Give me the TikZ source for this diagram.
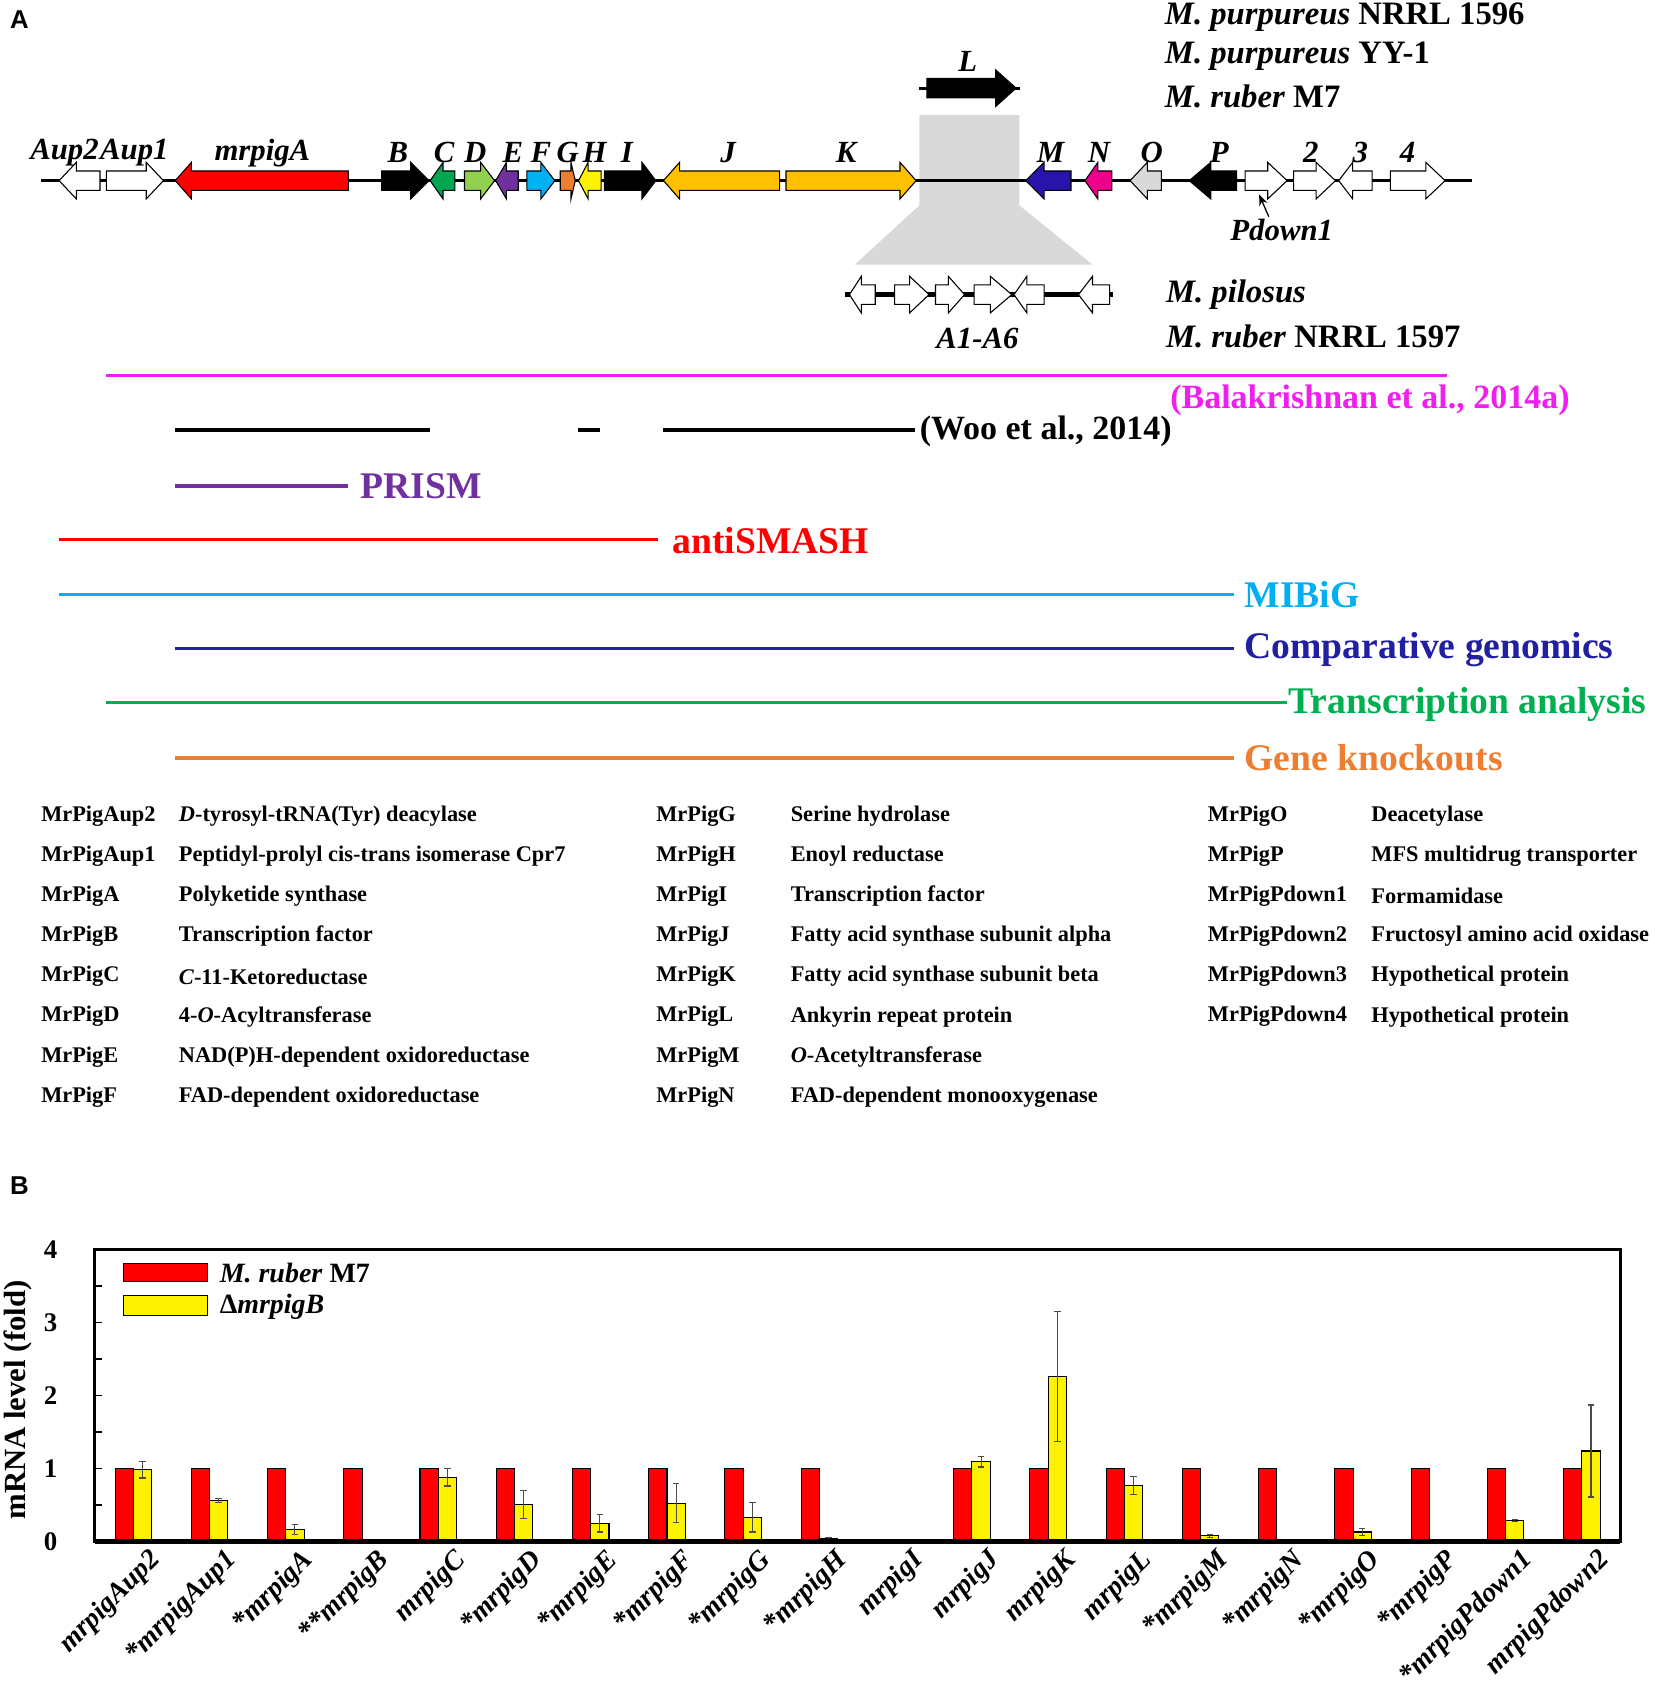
\documentclass[tikz,border=0pt]{standalone}
\usepackage{fontspec}
\setmainfont{Liberation Serif}
\newfontfamily\panelsans{Liberation Sans}
\usepackage{tikz}
\usetikzlibrary{arrows.meta}

\definecolor{pigC}{RGB}{0,166,80}
\definecolor{pigD}{RGB}{146,208,80}
\definecolor{pigE}{RGB}{112,48,160}
\definecolor{pigF}{RGB}{0,176,240}
\definecolor{pigG}{RGB}{237,125,49}
\definecolor{pigJK}{RGB}{255,192,0}
\definecolor{pigM}{RGB}{40,20,170}
\definecolor{pigO}{RGB}{217,217,217}
\definecolor{regiongray}{RGB}{217,217,217}
\definecolor{balak}{RGB}{240,30,240}
\definecolor{prism}{RGB}{112,48,160}
\definecolor{mibig}{RGB}{0,176,240}
\definecolor{compgen}{RGB}{32,32,160}
\definecolor{transcr}{RGB}{0,176,80}
\definecolor{knockout}{RGB}{237,125,49}

% tail, head base, tip, y, fill
\newcommand{\genearrow}[5]{%
    \filldraw[fill=#5,draw=black,line width=0.5pt]
        (#1,#4-9) -- (#2,#4-9) -- (#2,#4-17) -- (#3,#4) -- (#2,#4+17) -- (#2,#4+9) -- (#1,#4+9) -- cycle;}

\tikzset{
    genelbl/.style={font=\fontsize{14.3}{16}\selectfont\bfseries\itshape, inner sep=1pt},
    strainlbl/.style={font=\fontsize{15.2}{18}\selectfont\bfseries, anchor=west, inner sep=0pt},
    methodline/.style={line width=1.5pt},
    methodlbl/.style={font=\fontsize{17.5}{20}\selectfont\bfseries, anchor=west, inner sep=0pt},
    reflbl/.style={font=\fontsize{15.8}{18}\selectfont\bfseries, anchor=west, inner sep=0pt},
    tabtext/.style={font=\fontsize{10.4}{12}\selectfont\bfseries, anchor=west, inner sep=0pt},
    panellbl/.style={font=\panelsans\fontsize{12}{14}\selectfont\bfseries},
    ticklbl/.style={font=\fontsize{12.5}{14}\selectfont\bfseries},
    axislbl/.style={font=\fontsize{14.3}{16}\selectfont\bfseries},
    legendlbl/.style={font=\fontsize{13}{15}\selectfont\bfseries, anchor=west, inner sep=0pt},
    genetick/.style={font=\fontsize{13}{15}\selectfont\bfseries\itshape, anchor=east, rotate=45, inner sep=0pt},
    redbar/.style={fill=red,draw=black,line width=0.5pt},
    yellowbar/.style={fill=yellow,draw=black,line width=0.5pt},
    errbar/.style={draw=black!70,line width=0.5pt},
}

\begin{document}
\begin{tikzpicture}[x=0.5pt,y=-0.5pt]
    \useasboundingbox (0,0) rectangle (1539,1568);

    \node[panellbl] (panelA) at (18,18) {A};
    \node[panellbl] (panelB) at (18,1103) {B};

    % strains
    \node[strainlbl] (s1) at (1083,16) {\textit{M. purpureus} NRRL 1596};
    \node[strainlbl] (s2) at (1083,52) {\textit{M. purpureus} YY-1};
    \node[strainlbl] (s3) at (1083,90) {\textit{M. ruber} M7};
    \node[strainlbl] (s4) at (1084,274) {\textit{M. pilosus}};
    \node[strainlbl] (s5) at (1084,313) {\textit{M. ruber} NRRL 1597};

    % inserted region
    \fill[regiongray] (855,107) -- (948,107) -- (948,191) -- (1016,246) -- (795,246) -- (855,191) -- cycle;

    % L on top
    \draw[line width=1.5pt] (855,82) -- (949,82);
    \genearrow{862}{926}{945}{82}{black}
    \node[genelbl] (labL) at (900,57) {L};

    % main cluster
    \draw[line width=1.5pt] (38,168) -- (1369,168);
    \genearrow{93}{71}{55}{168}{white}
    \genearrow{99}{136}{152}{168}{white}
    \genearrow{324}{178}{163}{168}{red}
    \genearrow{355}{382}{399}{168}{black}
    \genearrow{423}{412}{400}{168}{pigC}
    \genearrow{432}{447}{460}{168}{pigD}
    \genearrow{482}{471}{461}{168}{pigE}
    \genearrow{490}{503}{516}{168}{pigF}
    \genearrow{521}{531}{535}{168}{pigG}
    \genearrow{559}{547}{538}{168}{yellow}
    \genearrow{562}{597}{610}{168}{black}
    \genearrow{725}{632}{617}{168}{pigJK}
    \genearrow{731}{837}{852}{168}{pigJK}
    \genearrow{996}{971}{954}{168}{pigM}
    \genearrow{1034}{1021}{1009}{168}{magenta}
    \genearrow{1080}{1067}{1051}{168}{pigO}
    \genearrow{1150}{1126}{1106}{168}{black}
    \genearrow{1158}{1179}{1197}{168}{white}
    \genearrow{1203}{1224}{1242}{168}{white}
    \genearrow{1276}{1258}{1245}{168}{white}
    \genearrow{1293}{1326}{1344}{168}{white}

    \node[genelbl] (labAup2) at (60,142) {Aup2};
    \node[genelbl] (labAup1) at (125,142) {Aup1};
    \node[genelbl] (labA) at (244,142) {mrpigA};
    \node[genelbl] (labB) at (370,142) {B};
    \node[genelbl] (labC) at (413,142) {C};
    \node[genelbl] (labD) at (442,142) {D};
    \node[genelbl] (labE) at (477,142) {E};
    \node[genelbl] (labF) at (503,142) {F};
    \node[genelbl] (labG) at (528,142) {G};
    \node[genelbl] (labH) at (553,142) {H};
    \node[genelbl] (labI) at (583,142) {I};
    \node[genelbl] (labJ) at (677,142) {J};
    \node[genelbl] (labK) at (787,142) {K};
    \node[genelbl] (labM) at (977,142) {M};
    \node[genelbl] (labN) at (1022,142) {N};
    \node[genelbl] (labO) at (1071,142) {O};
    \node[genelbl] (labP) at (1134,142) {P};
    \node[genelbl] (lab2) at (1219,142) {2};
    \node[genelbl] (lab3) at (1265,142) {3};
    \node[genelbl] (lab4) at (1309,142) {4};

    \node[genelbl] (labPd1) at (1192,214) {Pdown1};
    \coordinate (pd1tip) at (1171,181);
    \draw[-{Stealth[length=5pt,width=4pt]},line width=0.6pt] ([xshift=-6pt]labPd1.north) -- (pd1tip);

    % M. pilosus row
    \draw[line width=2pt] (786,274) -- (1035,274);
    \genearrow{814}{801}{790}{274}{white}
    \genearrow{832}{846}{864}{274}{white}
    \genearrow{870}{882}{897}{274}{white}
    \genearrow{906}{921}{941}{274}{white}
    \genearrow{971}{955}{943}{274}{white}
    \genearrow{1032}{1016}{1003}{274}{white}
    \node[genelbl] (labA16) at (909,315) {A1-A6};

    % prediction methods
    \draw[methodline,balak] (99,349) -- (1346,349);
    \node[reflbl,text=balak] (balak) at (1088,372) {(Balakrishnan et al., 2014a)};
    \draw[methodline] (163,400) -- (400,400);
    \draw[methodline] (538,400) -- (558,400);
    \draw[methodline] (617,400) -- (851,400);
    \node[reflbl] (woo) at (855,401) {(Woo et al., 2014)};
    \draw[methodline,prism] (163,452) -- (324,452);
    \node[methodlbl,text=prism] (prismlbl) at (335,452) {PRISM};
    \draw[methodline,red] (55,502) -- (612,502);
    \node[methodlbl,text=red] (antismash) at (625,503) {antiSMASH};
    \draw[methodline,mibig] (55,553) -- (1148,553);
    \node[methodlbl,text=mibig] (mibiglbl) at (1157,553) {MIBiG};
    \draw[methodline,compgen] (163,603) -- (1148,603);
    \node[methodlbl,text=compgen] (complbl) at (1157,604) {Comparative genomics};
    \draw[methodline,transcr] (99,653) -- (1197,653);
    \node[methodlbl,text=transcr] (translbl) at (1198,655) {Transcription analysis};
    \draw[methodline,knockout] (163,705) -- (1148,705);
    \node[methodlbl,text=knockout] (kolbl) at (1157,705) {Gene knockouts};

    % gene functions
    \foreach \nm/\ds [count=\k] in {
        MrPigAup2/{\textit{D}-tyrosyl-tRNA(Tyr) deacylase},
        MrPigAup1/{Peptidyl-prolyl cis-trans isomerase Cpr7},
        MrPigA/{Polyketide synthase},
        MrPigB/{Transcription factor},
        MrPigC/{\textit{C}-11-Ketoreductase},
        MrPigD/{4-\textit{O}-Acyltransferase},
        MrPigE/{NAD(P)H-dependent oxidoreductase},
        MrPigF/{FAD-dependent oxidoreductase}} {
        \node[tabtext] (ta\k) at (38,{759+37.3*(\k-1)}) {\nm};
        \node[tabtext] (tad\k) at (166,{759+37.3*(\k-1)}) {\ds};
    }
    \foreach \nm/\ds [count=\k] in {
        MrPigG/{Serine hydrolase},
        MrPigH/{Enoyl reductase},
        MrPigI/{Transcription factor},
        MrPigJ/{Fatty acid synthase subunit alpha},
        MrPigK/{Fatty acid synthase subunit beta},
        MrPigL/{Ankyrin repeat protein},
        MrPigM/{\textit{O}-Acetyltransferase},
        MrPigN/{FAD-dependent monooxygenase}} {
        \node[tabtext] (tb\k) at (610,{759+37.3*(\k-1)}) {\nm};
        \node[tabtext] (tbd\k) at (735,{759+37.3*(\k-1)}) {\ds};
    }
    \foreach \nm/\ds [count=\k] in {
        MrPigO/{Deacetylase},
        MrPigP/{MFS multidrug transporter},
        MrPigPdown1/{Formamidase},
        MrPigPdown2/{Fructosyl amino acid oxidase},
        MrPigPdown3/{Hypothetical protein},
        MrPigPdown4/{Hypothetical protein}} {
        \node[tabtext] (tc\k) at (1123,{759+37.3*(\k-1)}) {\nm};
        \node[tabtext] (tcd\k) at (1275,{759+37.3*(\k-1)}) {\ds};
    }

    % panel B bars (no data for mrpigI)
    \foreach \i in {1,...,10,12,13,...,20}
        \filldraw[redbar] ({124+70.9*(\i-1)-17},1433.6) rectangle ({124+70.9*(\i-1)},1365.7);
    \foreach \i/\v/\e in {1/0.98/0.11, 2/0.56/0.03, 3/0.16/0.07, 5/0.88/0.12, 6/0.51/0.19,
        7/0.25/0.12, 8/0.525/0.27, 9/0.33/0.2, 10/0.04/0.01, 12/1.09/0.07, 13/2.26/0.89,
        14/0.77/0.12, 15/0.08/0.02, 17/0.13/0.05, 19/0.29/0.01, 20/1.24/0.63} {
        \pgfmathsetmacro{\cx}{124+70.9*(\i-1)}
        \filldraw[yellowbar] (\cx,1433.6) rectangle (\cx+17,{1433.6-67.9*\v});
        \draw[errbar] (\cx+8.5,{1433.6-67.9*(\v-\e)}) -- (\cx+8.5,{1433.6-67.9*(\v+\e)});
        \draw[errbar] (\cx+5.5,{1433.6-67.9*(\v-\e)}) -- (\cx+11.5,{1433.6-67.9*(\v-\e)});
        \draw[errbar] (\cx+5.5,{1433.6-67.9*(\v+\e)}) -- (\cx+11.5,{1433.6-67.9*(\v+\e)});
    }

    % frame and axis
    \draw[line width=1.5pt] (88,1161.7) rectangle (1507,1433.6);
    \draw[line width=2.2pt] (88,1433.6) -- (1507,1433.6);
    \foreach \t in {1,...,7}
        \draw[line width=0.8pt] (88,{1433.6-33.95*\t}) -- (95,{1433.6-33.95*\t});
    \foreach \t in {0,...,4}
        \node[ticklbl] (yt\t) at (47,{1433.6-67.9*\t}) {\t};
    \node[axislbl,rotate=90] (ylab) at (17,1302) {mRNA level (fold)};

    % legend
    \filldraw[redbar] (115,1175) rectangle (193,1192);
    \filldraw[yellowbar] (115,1205) rectangle (193,1223);
    \node[legendlbl] (leg1) at (204,1184) {\textit{M. ruber} M7};
    \node[legendlbl] (leg2) at (204,1215) {Δ\textit{mrpigB}};

    % gene names under bars
    \foreach \lb [count=\i] in {mrpigAup2, *mrpigAup1, *mrpigA, **mrpigB, mrpigC, *mrpigD,
        *mrpigE, *mrpigF, *mrpigG, *mrpigH, mrpigI, mrpigJ, mrpigK, mrpigL, *mrpigM,
        *mrpigN, *mrpigO, *mrpigP, *mrpigPdown1, mrpigPdown2}
        \node[genetick] (xl\i) at ({124+70.9*(\i-1)+22},1447) {\lb};
\end{tikzpicture}
\end{document}
